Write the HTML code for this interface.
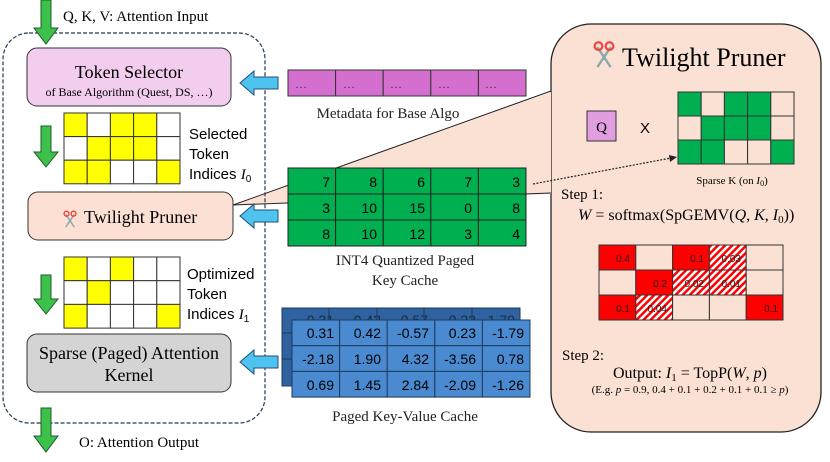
<!DOCTYPE html>
<html><head><meta charset="utf-8"><style>
html,body{margin:0;padding:0;background:#fff}
svg{display:block}
.s{font-family:"Liberation Serif",serif}
.a{font-family:"Liberation Sans",sans-serif}
</style></head><body>
<svg width="830" height="462" viewBox="0 0 830 462" xmlns="http://www.w3.org/2000/svg">
<defs>
<pattern id="h" width="5" height="5" patternUnits="userSpaceOnUse" patternTransform="rotate(45)">
<rect width="5" height="5" fill="#fff"/><rect width="2.5" height="5" fill="#f00"/>
</pattern>
<g id="sc">
<line x1="-6" y1="-8" x2="6" y2="10" stroke="#8aa" stroke-width="2.2"/>
<line x1="6" y1="-8" x2="-6" y2="10" stroke="#8aa" stroke-width="2.2"/>
<circle cx="-5" cy="-9" r="3.5" fill="none" stroke="#e44" stroke-width="2"/>
<circle cx="5" cy="-9" r="3.5" fill="none" stroke="#e44" stroke-width="2"/>
</g>
</defs>

<!-- right panel -->
<rect x="551" y="24" width="270" height="408" rx="40" fill="#fbe1d4" stroke="#222" stroke-width="1.3"/>
<polygon points="233,205 551,92 551,194" fill="#fbe1d4"/>
<line x1="233" y1="205" x2="551" y2="91" stroke="#222" stroke-width="1"/>
<line x1="233" y1="205" x2="551" y2="193" stroke="#222" stroke-width="1"/>

<!-- dashed container -->
<rect x="3" y="33" width="262" height="390" rx="26" fill="none" stroke="#1f3b5a" stroke-width="1.2" stroke-dasharray="4,2"/>

<!-- green arrows -->
<g fill="#3cc24a" stroke="#1f5a2a" stroke-width="1">
<polygon points="41,0 51,0 51,28 58,28 46,44 34,28 41,28"/>
<polygon points="41,126 51,126 51,152 58,152 46,167 34,152 41,152"/>
<polygon points="41,275 51,275 51,299 58,299 46,314 34,299 41,299"/>
<polygon points="41,408 51,408 51,436 58,436 46,452 34,436 41,436"/>
</g>
<text x="63" y="21" class="s" font-size="15">Q, K, V: Attention Input</text>
<text x="79" y="447" class="s" font-size="15">O: Attention Output</text>

<!-- token selector -->
<rect x="27" y="48" width="204" height="58" rx="10" fill="#f2cdee" stroke="#333" stroke-width="1"/>
<text x="129" y="78" class="s" font-size="18" text-anchor="middle">Token Selector</text>
<text x="129" y="96" class="s" font-size="12" text-anchor="middle">of Base Algorithm (Quest, DS, …)</text>

<!-- grid I0 -->
<g stroke="#333" stroke-width="1">
<rect x="64" y="113" width="23.2" height="23.6" fill="#ff0"/><rect x="87.2" y="113" width="23.2" height="23.6" fill="#fff"/><rect x="110.4" y="113" width="23.2" height="23.6" fill="#ff0"/><rect x="133.6" y="113" width="23.2" height="23.6" fill="#ff0"/><rect x="156.8" y="113" width="23.2" height="23.6" fill="#fff"/>
<rect x="64" y="136.6" width="23.2" height="23.6" fill="#fff"/><rect x="87.2" y="136.6" width="23.2" height="23.6" fill="#ff0"/><rect x="110.4" y="136.6" width="23.2" height="23.6" fill="#ff0"/><rect x="133.6" y="136.6" width="23.2" height="23.6" fill="#ff0"/><rect x="156.8" y="136.6" width="23.2" height="23.6" fill="#fff"/>
<rect x="64" y="160.2" width="23.2" height="23.6" fill="#ff0"/><rect x="87.2" y="160.2" width="23.2" height="23.6" fill="#ff0"/><rect x="110.4" y="160.2" width="23.2" height="23.6" fill="#fff"/><rect x="133.6" y="160.2" width="23.2" height="23.6" fill="#fff"/><rect x="156.8" y="160.2" width="23.2" height="23.6" fill="#ff0"/>
</g>
<text class="a" font-size="15"><tspan x="189" y="139">Selected</tspan><tspan x="189" y="159">Token</tspan><tspan x="189" y="179">Indices <tspan class="s" font-style="italic">I</tspan><tspan font-size="10" dy="3">0</tspan></tspan></text>

<!-- twilight pruner left -->
<rect x="28" y="192" width="205" height="48" rx="10" fill="#fbe0d3" stroke="#333" stroke-width="1"/>
<use href="#sc" transform="translate(70,220) scale(0.7)"/>
<text x="84" y="223" class="s" font-size="18">Twilight Pruner</text>

<!-- grid I1 -->
<g stroke="#333" stroke-width="1">
<rect x="64" y="257" width="23.2" height="23.7" fill="#ff0"/><rect x="87.2" y="257" width="23.2" height="23.7" fill="#fff"/><rect x="110.4" y="257" width="23.2" height="23.7" fill="#ff0"/><rect x="133.6" y="257" width="23.2" height="23.7" fill="#fff"/><rect x="156.8" y="257" width="23.2" height="23.7" fill="#fff"/>
<rect x="64" y="280.7" width="23.2" height="23.7" fill="#fff"/><rect x="87.2" y="280.7" width="23.2" height="23.7" fill="#ff0"/><rect x="110.4" y="280.7" width="23.2" height="23.7" fill="#fff"/><rect x="133.6" y="280.7" width="23.2" height="23.7" fill="#fff"/><rect x="156.8" y="280.7" width="23.2" height="23.7" fill="#fff"/>
<rect x="64" y="304.4" width="23.2" height="23.7" fill="#ff0"/><rect x="87.2" y="304.4" width="23.2" height="23.7" fill="#fff"/><rect x="110.4" y="304.4" width="23.2" height="23.7" fill="#fff"/><rect x="133.6" y="304.4" width="23.2" height="23.7" fill="#fff"/><rect x="156.8" y="304.4" width="23.2" height="23.7" fill="#ff0"/>
</g>
<text class="a" font-size="15"><tspan x="187" y="279">Optimized</tspan><tspan x="187" y="299">Token</tspan><tspan x="187" y="319">Indices <tspan class="s" font-style="italic">I</tspan><tspan font-size="10" dy="3">1</tspan></tspan></text>

<!-- sparse kernel -->
<rect x="27" y="334" width="204" height="58" rx="10" fill="#d4d4d4" stroke="#333" stroke-width="1"/>
<text x="129" y="359" class="s" font-size="18" text-anchor="middle">Sparse (Paged) Attention</text>
<text x="129" y="381" class="s" font-size="18" text-anchor="middle">Kernel</text>

<!-- blue arrows -->
<g fill="#4fc3f0" stroke="#1f4e79" stroke-width="1">
<polygon points="240,83 254,71 254,77 278,77 278,89 254,89 254,95"/>
<polygon points="240,216 254,204 254,210 278,210 278,222 254,222 254,228"/>
<polygon points="240,362 254,350 254,356 278,356 278,368 254,368 254,374"/>
</g>

<!-- metadata -->
<g stroke="#333" stroke-width="1" fill="#d46fcf">
<rect x="288" y="70" width="47.6" height="26"/><rect x="335.6" y="70" width="47.6" height="26"/><rect x="383.2" y="70" width="47.6" height="26"/><rect x="430.8" y="70" width="47.6" height="26"/><rect x="478.4" y="70" width="47.6" height="26"/>
</g>
<g class="s" font-size="12" fill="#333"><text x="295" y="88">…</text><text x="343" y="88">…</text><text x="390" y="88">…</text><text x="438" y="88">…</text><text x="485" y="88">…</text></g>
<text x="388" y="118" class="s" font-size="15" text-anchor="middle" fill="#222">Metadata for Base Algo</text>

<!-- INT4 grid -->
<g stroke="#222" stroke-width="1" fill="#00b050">
<rect x="288" y="168" width="47.6" height="26"/><rect x="335.6" y="168" width="47.6" height="26"/><rect x="383.2" y="168" width="47.6" height="26"/><rect x="430.8" y="168" width="47.6" height="26"/><rect x="478.4" y="168" width="47.6" height="26"/>
<rect x="288" y="194" width="47.6" height="26"/><rect x="335.6" y="194" width="47.6" height="26"/><rect x="383.2" y="194" width="47.6" height="26"/><rect x="430.8" y="194" width="47.6" height="26"/><rect x="478.4" y="194" width="47.6" height="26"/>
<rect x="288" y="220" width="47.6" height="26"/><rect x="335.6" y="220" width="47.6" height="26"/><rect x="383.2" y="220" width="47.6" height="26"/><rect x="430.8" y="220" width="47.6" height="26"/><rect x="478.4" y="220" width="47.6" height="26"/>
</g>
<g class="a" font-size="14" text-anchor="end">
<text x="330" y="187">7</text><text x="377" y="187">8</text><text x="425" y="187">6</text><text x="472" y="187">7</text><text x="520" y="187">3</text>
<text x="330" y="213">3</text><text x="377" y="213">10</text><text x="425" y="213">15</text><text x="472" y="213">0</text><text x="520" y="213">8</text>
<text x="330" y="239">8</text><text x="377" y="239">10</text><text x="425" y="239">12</text><text x="472" y="239">3</text><text x="520" y="239">4</text>
</g>
<text x="405" y="265" class="s" font-size="15" text-anchor="middle" fill="#222">INT4 Quantized Paged</text>
<text x="405" y="285" class="s" font-size="15" text-anchor="middle" fill="#222">Key Cache</text>

<!-- paged KV -->
<rect x="282" y="308" width="238" height="78" fill="#2e62a0" stroke="#1f3b5a" stroke-width="1"/>
<g class="a" font-size="14" fill="#1a2a40" text-anchor="end"><text x="334" y="325">0.31</text><text x="381" y="325">0.42</text><text x="428" y="325">0.57</text><text x="476" y="325">0.23</text><text x="515" y="325">1.79</text></g>
<g stroke="#1f3b5a" stroke-width="1"><line x1="329" y1="308" x2="329" y2="320"/><line x1="377" y1="308" x2="377" y2="320"/><line x1="424" y1="308" x2="424" y2="320"/><line x1="472" y1="308" x2="472" y2="320"/><line x1="282" y1="333" x2="292" y2="333"/><line x1="282" y1="359" x2="292" y2="359"/></g>
<g stroke="#1f3b5a" stroke-width="1" fill="#4a8ad0">
<rect x="292" y="320" width="47.6" height="25.7"/><rect x="339.6" y="320" width="47.6" height="25.7"/><rect x="387.2" y="320" width="47.6" height="25.7"/><rect x="434.8" y="320" width="47.6" height="25.7"/><rect x="482.4" y="320" width="47.6" height="25.7"/>
<rect x="292" y="345.7" width="47.6" height="25.7"/><rect x="339.6" y="345.7" width="47.6" height="25.7"/><rect x="387.2" y="345.7" width="47.6" height="25.7"/><rect x="434.8" y="345.7" width="47.6" height="25.7"/><rect x="482.4" y="345.7" width="47.6" height="25.7"/>
<rect x="292" y="371.4" width="47.6" height="25.7"/><rect x="339.6" y="371.4" width="47.6" height="25.7"/><rect x="387.2" y="371.4" width="47.6" height="25.7"/><rect x="434.8" y="371.4" width="47.6" height="25.7"/><rect x="482.4" y="371.4" width="47.6" height="25.7"/>
</g>
<g class="a" font-size="14" text-anchor="end">
<text x="334" y="338">0.31</text><text x="381" y="338">0.42</text><text x="429" y="338">-0.57</text><text x="476" y="338">0.23</text><text x="524" y="338">-1.79</text>
<text x="334" y="364">-2.18</text><text x="381" y="364">1.90</text><text x="429" y="364">4.32</text><text x="476" y="364">-3.56</text><text x="524" y="364">0.78</text>
<text x="334" y="390">0.69</text><text x="381" y="390">1.45</text><text x="429" y="390">2.84</text><text x="476" y="390">-2.09</text><text x="524" y="390">-1.26</text>
</g>
<text x="405" y="421" class="s" font-size="15" text-anchor="middle" fill="#222">Paged Key-Value Cache</text>

<!-- dotted arrow -->
<line x1="533" y1="184" x2="671" y2="158" stroke="#222" stroke-width="1.2" stroke-dasharray="2,1.5"/>
<polygon points="677,157 669,155 670,162" fill="#222"/>

<!-- panel content -->
<use href="#sc" transform="translate(604,56) scale(1.1)"/>
<text x="622" y="66" class="s" font-size="26">Twilight Pruner</text>
<rect x="587" y="111" width="29" height="30" fill="#e09ee0" stroke="#333" stroke-width="1"/>
<text x="601.5" y="132" class="s" font-size="15" text-anchor="middle">Q</text>
<text x="645" y="133" class="a" font-size="15" text-anchor="middle">X</text>
<g stroke="#333" stroke-width="1">
<rect x="678" y="92" width="23.2" height="24" fill="#00b050"/><rect x="701.2" y="92" width="23.2" height="24" fill="#fbe1d4"/><rect x="724.4" y="92" width="23.2" height="24" fill="#00b050"/><rect x="747.6" y="92" width="23.2" height="24" fill="#00b050"/><rect x="770.8" y="92" width="23.2" height="24" fill="#fbe1d4"/>
<rect x="678" y="116" width="23.2" height="24" fill="#fbe1d4"/><rect x="701.2" y="116" width="23.2" height="24" fill="#00b050"/><rect x="724.4" y="116" width="23.2" height="24" fill="#00b050"/><rect x="747.6" y="116" width="23.2" height="24" fill="#00b050"/><rect x="770.8" y="116" width="23.2" height="24" fill="#fbe1d4"/>
<rect x="678" y="140" width="23.2" height="24" fill="#00b050"/><rect x="701.2" y="140" width="23.2" height="24" fill="#00b050"/><rect x="724.4" y="140" width="23.2" height="24" fill="#fbe1d4"/><rect x="747.6" y="140" width="23.2" height="24" fill="#fbe1d4"/><rect x="770.8" y="140" width="23.2" height="24" fill="#00b050"/>
</g>
<text x="732" y="184" class="s" font-size="11" text-anchor="middle">Sparse K (on <tspan font-style="italic">I</tspan><tspan font-size="8" dy="2">0</tspan><tspan dy="-2">)</tspan></text>
<text x="561" y="199" class="s" font-size="15">Step 1:</text>
<text x="578" y="220" class="s" font-size="16"><tspan font-style="italic">W</tspan> = softmax(SpGEMV(<tspan font-style="italic">Q</tspan>, <tspan font-style="italic">K</tspan>, <tspan font-style="italic">I</tspan><tspan font-size="11" dy="3">0</tspan><tspan dy="-3">))</tspan></text>

<g stroke="#333" stroke-width="1">
<rect x="599" y="245" width="36.8" height="25" fill="#f00"/><rect x="635.8" y="245" width="36.8" height="25" fill="#fbe1d4"/><rect x="672.6" y="245" width="36.8" height="25" fill="#f00"/><rect x="709.4" y="245" width="36.8" height="25" fill="url(#h)"/><rect x="746.2" y="245" width="36.8" height="25" fill="#fbe1d4"/>
<rect x="599" y="270" width="36.8" height="25" fill="#fbe1d4"/><rect x="635.8" y="270" width="36.8" height="25" fill="#f00"/><rect x="672.6" y="270" width="36.8" height="25" fill="url(#h)"/><rect x="709.4" y="270" width="36.8" height="25" fill="url(#h)"/><rect x="746.2" y="270" width="36.8" height="25" fill="#fbe1d4"/>
<rect x="599" y="295" width="36.8" height="25" fill="#f00"/><rect x="635.8" y="295" width="36.8" height="25" fill="url(#h)"/><rect x="672.6" y="295" width="36.8" height="25" fill="#fbe1d4"/><rect x="709.4" y="295" width="36.8" height="25" fill="#fbe1d4"/><rect x="746.2" y="295" width="36.8" height="25" fill="#f00"/>
</g>
<g class="a" font-size="10" text-anchor="end" fill="#222">
<text x="630" y="262">0.4</text><text x="667" y="287">0.2</text><text x="704" y="262">0.1</text><text x="741" y="262">0.03</text>
<text x="704" y="287">0.02</text><text x="741" y="287">0.01</text>
<text x="630" y="312">0.1</text><text x="667" y="312">0.04</text><text x="778" y="312">0.1</text>
</g>
<text x="562" y="360" class="s" font-size="15">Step 2:</text>
<text x="690" y="378" class="s" font-size="16" text-anchor="middle">Output: <tspan font-style="italic">I</tspan><tspan font-size="11" dy="3">1</tspan><tspan dy="-3"> = TopP(</tspan><tspan font-style="italic">W</tspan>, <tspan font-style="italic">p</tspan>)</text>
<text x="690" y="393" class="s" font-size="11" text-anchor="middle">(E.g. <tspan font-style="italic">p</tspan> = 0.9, 0.4 + 0.1 + 0.2 + 0.1 + 0.1 ≥ <tspan font-style="italic">p</tspan>)</text>
</svg>
</body></html>
